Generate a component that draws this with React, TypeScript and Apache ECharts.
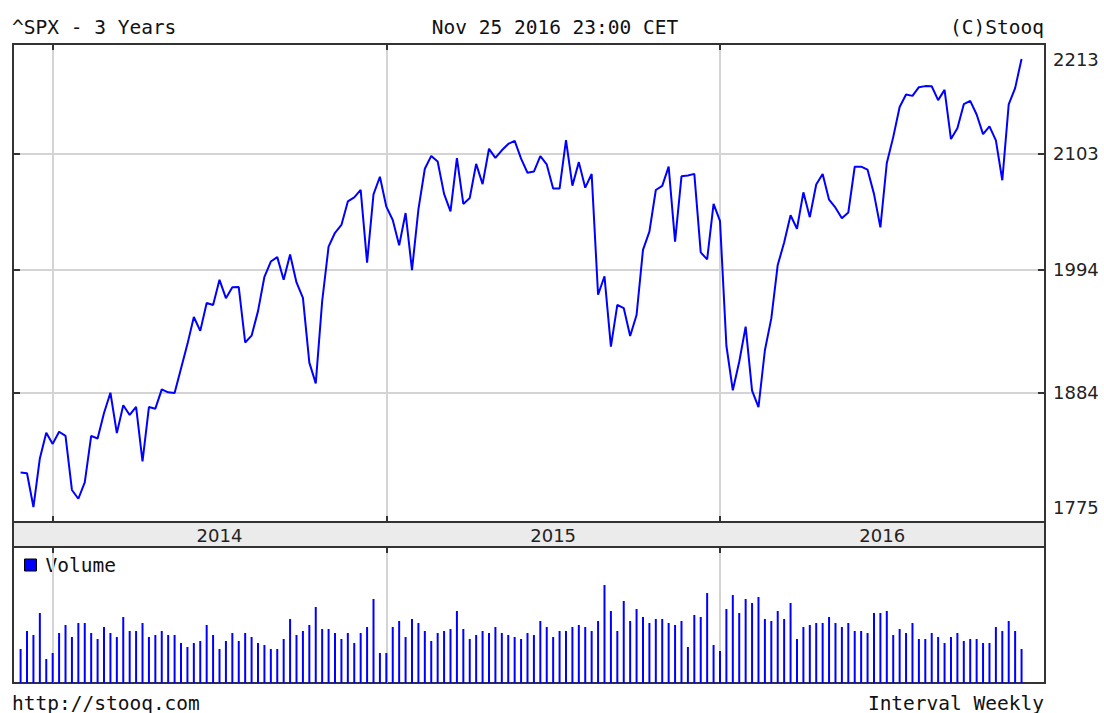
import React, { useEffect, useRef } from 'react';
import * as echarts from 'echarts';

// ---------- data ----------
const DAY = 86400000;
const FIRST_WEEK = Date.UTC(2013, 10, 29); // weekly closes, Fridays
const X_MIN = Date.UTC(2013, 10, 20, 17);
const X_MAX = Date.UTC(2016, 11, 20, 14);

const closes2013 = [1805.81, 1805.09, 1775.32, 1818.32, 1841.4];
const closes2014 = [
  1831.37, 1842.37, 1838.7, 1790.29, 1782.59, 1797.02, 1838.63, 1836.25, 1859.45, 1878.04,
  1841.13, 1866.52, 1857.62, 1865.09, 1815.69, 1864.85, 1863.4, 1881.14, 1878.48, 1877.86,
  1900.53, 1923.57, 1949.44, 1936.16, 1962.87, 1960.96, 1985.44, 1967.57, 1978.22, 1978.34,
  1925.15, 1931.59, 1955.06, 1988.4, 2003.37, 2007.71, 1985.54, 2010.4, 1982.85, 1967.9,
  1906.13, 1886.76, 1964.58, 2018.05, 2031.92, 2039.82, 2063.5, 2067.56, 2075.37, 2002.33,
  2070.65, 2088.77,
];
const closes2015 = [
  2058.2, 2044.81, 2019.42, 2051.82, 1994.99, 2055.47, 2096.99, 2110.3, 2104.5, 2071.26,
  2053.4, 2108.1, 2061.02, 2066.96, 2102.06, 2081.18, 2117.69, 2108.29, 2116.1, 2122.73,
  2126.06, 2107.39, 2092.83, 2094.11, 2109.99, 2101.49, 2076.78, 2076.62, 2126.64, 2079.65,
  2103.84, 2077.57, 2091.54, 1970.89, 1988.87, 1921.22, 1961.05, 1958.03, 1931.34, 1951.36,
  2014.89, 2033.11, 2075.15, 2079.36, 2099.2, 2023.04, 2089.17, 2090.11, 2091.69, 2012.37,
  2005.55, 2060.99, 2043.94,
];
const closes2016 = [
  1922.03, 1880.33, 1906.9, 1940.24, 1880.05, 1864.78, 1917.78, 1948.05, 1999.99, 2022.19,
  2049.58, 2035.94, 2072.78, 2047.6, 2080.73, 2091.58, 2065.3, 2057.14, 2046.61, 2052.32,
  2099.06, 2099.13, 2096.07, 2071.22, 2037.41, 2102.95, 2129.9, 2161.74, 2175.03, 2173.6,
  2182.87, 2184.05, 2183.87, 2169.04, 2179.98, 2127.81, 2139.16, 2164.69, 2168.27, 2153.74,
  2132.98, 2141.16, 2126.41, 2085.18, 2164.45, 2181.9, 2213.35,
];

// weekly volume, relative units (panel has no scale)
const volume2013 = [34, 52, 48, 70, 24];
const volume2014 = [
  30, 50, 58, 46, 60, 60, 50, 44, 56, 50, 46, 66, 52, 52, 60, 46, 48, 52, 48, 48,
  40, 36, 40, 42, 58, 48, 34, 42, 50, 42, 50, 46, 40, 38, 34, 34, 44, 64, 48, 52,
  58, 76, 54, 54, 50, 44, 50, 40, 50, 56, 84, 30,
];
const volume2015 = [
  30, 56, 62, 46, 64, 60, 52, 42, 50, 52, 54, 72, 54, 44, 48, 52, 50, 56, 50, 48,
  46, 44, 50, 48, 62, 56, 46, 52, 52, 56, 58, 56, 52, 62, 98, 72, 52, 82, 62, 74,
  66, 60, 64, 64, 60, 58, 62, 36, 68, 66, 90, 38, 32,
];
const volume2016 = [
  74, 88, 70, 84, 80, 86, 64, 62, 72, 64, 80, 44, 56, 58, 60, 60, 66, 60, 56, 60,
  52, 52, 50, 70, 70, 72, 48, 54, 50, 60, 44, 44, 50, 46, 40, 46, 50, 42, 44, 44,
  40, 40, 56, 52, 62, 52, 34,
];

const closes = [...closes2013, ...closes2014, ...closes2015, ...closes2016];
const volume = [...volume2013, ...volume2014, ...volume2015, ...volume2016];
const weekDates = closes.map((_, i) => FIRST_WEEK + i * 7 * DAY);

// axis ticks / labels
const yearTicks = [Date.UTC(2014, 0, 3), Date.UTC(2015, 0, 2), Date.UTC(2016, 0, 1)];
const yearLabelDates = [Date.UTC(2014, 6, 4), Date.UTC(2015, 6, 3), Date.UTC(2016, 5, 26)];
const yearLabels = ['2014', '2015', '2016'];

const PRICE_MIN = 1775.32;
const PRICE_MAX = 2213.35;
const priceTickValues = [2103.84, 1994.34, 1884.83];
const priceTickLabels = ['2103', '1994', '1884'];
const priceEndLabels = ['2213', '1775'];
// the price line is drawn with a small inner margin
const LINE_AXIS_MIN = 1762.3;
const LINE_AXIS_MAX = 2229.8;
const VOLUME_AXIS_MAX = 136;

// ---------- styles ----------
const MONO = '"DejaVu Sans Mono", monospace';
const SANS = '"DejaVu Sans", sans-serif';
const FRAME = '#333333';
const GRID_LINE = '#d4d4d4';
const BLUE = '#0000ff';
const TEXT = '#111111';

function buildOption(): any {
  const tick = {
    show: true,
    inside: true,
    length: 6,
    customValues: yearTicks,
    lineStyle: { color: FRAME, width: 2 },
  };
  const yTick = {
    show: true,
    inside: true,
    length: 7,
    customValues: priceTickValues,
    lineStyle: { color: FRAME, width: 2 },
  };
  const noLine = { show: false, onZero: false };
  const axisLabelStyle = { fontFamily: SANS, fontSize: 18, color: '#222' };
  const xBase = { type: 'value', min: X_MIN, max: X_MAX, scale: true, z: 6 };

  return {
    animation: false,
    backgroundColor: '#ffffff',
    grid: [
      { left: 13, top: 44, width: 1032, height: 478, show: true, borderColor: FRAME, borderWidth: 2 },
      { left: 13, top: 547, width: 1032, height: 136, show: true, borderColor: FRAME, borderWidth: 2 },
    ],
    xAxis: [
      {
        ...xBase, gridIndex: 0, position: 'bottom',
        axisLine: noLine, splitLine: { show: false }, axisTick: tick,
        axisLabel: {
          ...axisLabelStyle, margin: 4, hideOverlap: false,
          showMinLabel: true, showMaxLabel: true,
          customValues: yearLabelDates,
          formatter: (v: number) => {
            const i = yearLabelDates.indexOf(v);
            return i >= 0 ? yearLabels[i] : '';
          },
        },
      },
      {
        ...xBase, gridIndex: 0, position: 'top',
        axisLine: noLine, splitLine: { show: false }, axisTick: tick, axisLabel: { show: false },
      },
      {
        ...xBase, gridIndex: 1, position: 'top',
        axisLine: noLine, splitLine: { show: false }, axisTick: tick, axisLabel: { show: false },
      },
    ],
    yAxis: [
      { gridIndex: 0, type: 'log', min: LINE_AXIS_MIN, max: LINE_AXIS_MAX, show: false },
      {
        gridIndex: 0, type: 'log', min: PRICE_MIN, max: PRICE_MAX, position: 'right', z: 6,
        axisLine: noLine, axisLabel: { show: false }, splitLine: { show: false }, axisTick: yTick,
      },
      {
        gridIndex: 0, type: 'log', min: PRICE_MIN, max: PRICE_MAX, position: 'left', z: 6,
        axisLine: noLine, axisLabel: { show: false }, splitLine: { show: false }, axisTick: yTick,
      },
      { gridIndex: 1, type: 'value', min: 0, max: VOLUME_AXIS_MAX, show: false },
    ],
    legend: {
      data: ['Volume'], left: 24, top: 555, padding: 0, icon: 'rect', itemWidth: 12, itemHeight: 12,
      selectedMode: false,
      itemStyle: { color: BLUE, borderColor: '#000', borderWidth: 1 },
      textStyle: { fontFamily: MONO, fontSize: 19.5, color: TEXT, padding: [0, 0, 0, 4] },
    },
    series: [
      {
        name: '^SPX', type: 'line', xAxisIndex: 0, yAxisIndex: 0, z: 10, silent: true,
        data: weekDates.map((t, i) => [t, closes[i]]),
        symbol: 'none', showSymbol: false,
        lineStyle: { color: BLUE, width: 2 }, itemStyle: { color: BLUE },
        markLine: {
          silent: true, symbol: ['none', 'none'], animation: false,
          lineStyle: { color: 'rgba(0,0,0,0)', width: 0 },
          label: { show: true, position: 'end', distance: 8, ...axisLabelStyle },
          data: [
            { yAxis: PRICE_MAX, label: { formatter: priceEndLabels[0] } },
            { yAxis: PRICE_MIN, label: { formatter: priceEndLabels[1], padding: [6, 0, 0, 0] } },
          ],
        },
      },
      {
        name: 'priceGrid', type: 'line', xAxisIndex: 0, yAxisIndex: 1, silent: true,
        data: [[weekDates[0], 2000]], symbol: 'none', lineStyle: { opacity: 0 },
        markLine: {
          silent: true, symbol: ['none', 'none'], animation: false,
          lineStyle: { color: GRID_LINE, width: 2, type: 'solid' },
          label: { show: true, position: 'end', distance: 8, ...axisLabelStyle },
          data: [
            ...priceTickValues.map((v, i) => ({ yAxis: v, label: { formatter: priceTickLabels[i] } })),
            ...yearTicks.map((t) => ({ xAxis: t, label: { show: false } })),
          ],
        },
      },
      {
        name: 'Volume', type: 'bar', xAxisIndex: 2, yAxisIndex: 3, z: 10, silent: true,
        data: weekDates.map((t, i) => [t, volume[i]]),
        barWidth: 2, itemStyle: { color: BLUE },
      },
      {
        name: 'volumeGrid', type: 'line', xAxisIndex: 2, yAxisIndex: 3, silent: true,
        data: [[weekDates[0], 0]], symbol: 'none', lineStyle: { opacity: 0 },
        markLine: {
          silent: true, symbol: ['none', 'none'], animation: false,
          lineStyle: { color: GRID_LINE, width: 2, type: 'solid' },
          label: { show: false },
          data: yearTicks.map((t) => ({ xAxis: t })),
        },
      },
    ],
    graphic: [
      {
        type: 'rect', z: -10, silent: true,
        shape: { x: 13, y: 522, width: 1032, height: 25 },
        style: { fill: '#ebebeb', stroke: FRAME, lineWidth: 2 },
      },
      {
        type: 'text', x: 12, y: 27, z: 10,
        style: { text: '^SPX - 3 Years', font: `19.5px ${MONO}`, fill: TEXT, align: 'left', verticalAlign: 'middle', textAlign: 'left', textVerticalAlign: 'middle' },
      },
      {
        type: 'text', x: 555, y: 27, z: 10,
        style: { text: 'Nov 25 2016 23:00 CET', font: `19.5px ${MONO}`, fill: TEXT, align: 'center', verticalAlign: 'middle', textAlign: 'center', textVerticalAlign: 'middle' },
      },
      {
        type: 'text', x: 1044, y: 27, z: 10,
        style: { text: '(C)Stooq', font: `19.5px ${MONO}`, fill: TEXT, align: 'right', verticalAlign: 'middle', textAlign: 'right', textVerticalAlign: 'middle' },
      },
      {
        type: 'text', x: 12, y: 703, z: 10,
        style: { text: 'http://stooq.com', font: `19.5px ${MONO}`, fill: TEXT, align: 'left', verticalAlign: 'middle', textAlign: 'left', textVerticalAlign: 'middle' },
      },
      {
        type: 'text', x: 1044, y: 703, z: 10,
        style: { text: 'Interval Weekly', font: `19.5px ${MONO}`, fill: TEXT, align: 'right', verticalAlign: 'middle', textAlign: 'right', textVerticalAlign: 'middle' },
      },
    ],
  };
}

export default function App() {
  const ref = useRef<HTMLDivElement>(null);
  useEffect(() => {
    if (!ref.current) return;
    const chart = echarts.init(ref.current, null, { renderer: 'svg' });
    chart.setOption(buildOption());
    return () => chart.dispose();
  }, []);
  return (
    <div
      ref={ref}
      style={{ position: 'fixed', left: 0, top: 0, width: 1104, height: 713, background: '#fff' }}
    />
  );
}
